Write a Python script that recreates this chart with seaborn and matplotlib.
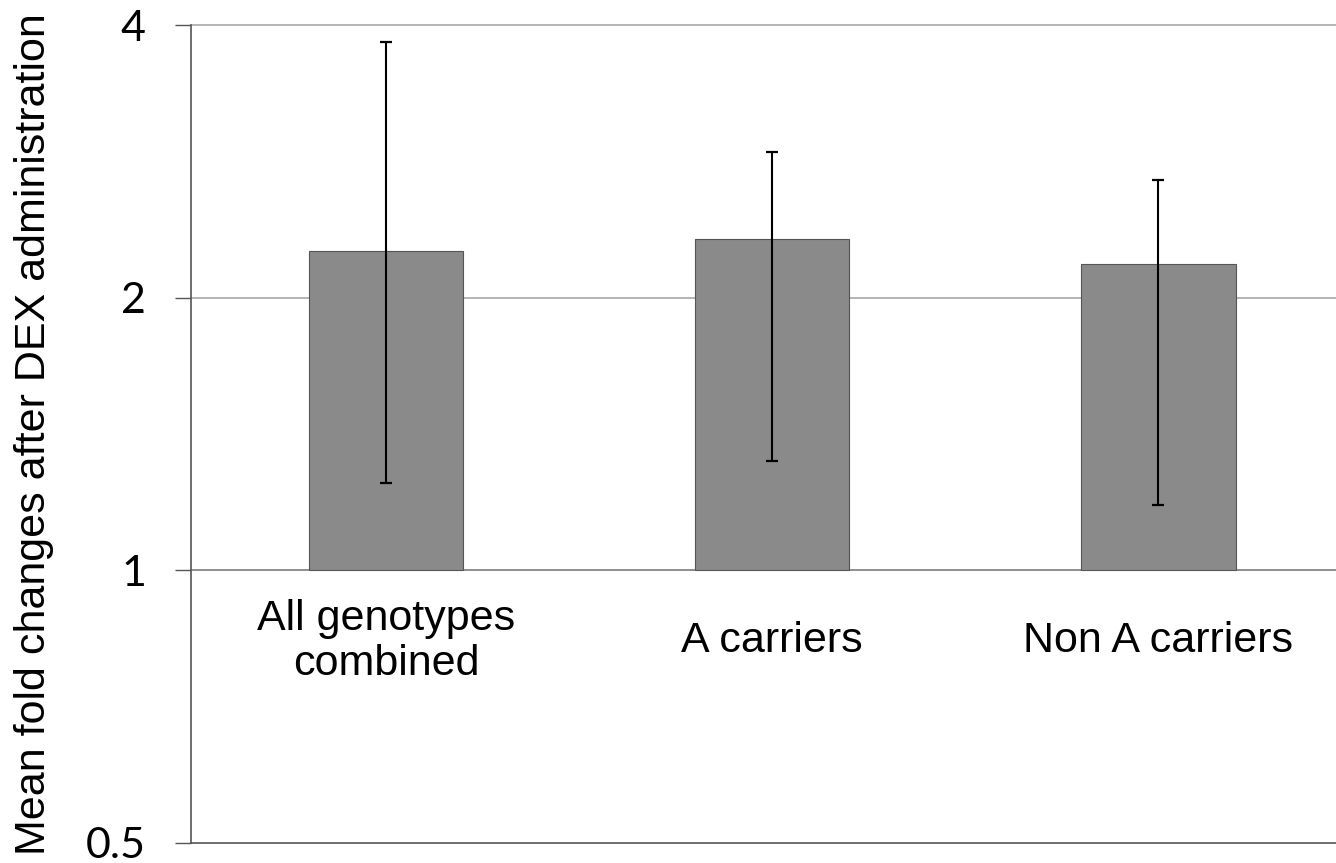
import numpy as np
import pandas as pd
import matplotlib
matplotlib.use("Agg")
import matplotlib.pyplot as plt
import seaborn as sns

# Group means and error limits (fold change after DEX)
categories = ["All genotypes\ncombined", "A carriers", "Non A carriers"]
mean_fold = [2.25, 2.32, 2.18]
err_low = [1.25, 1.32, 1.18]
err_high = [3.83, 2.90, 2.70]
y_ticks = [0.5, 1, 2, 4]

sns.set_theme(style="white")
plt.rcParams["font.family"] = ["Liberation Sans", "DejaVu Sans"]
plt.rcParams["text.color"] = "black"
plt.rcParams["axes.labelcolor"] = "black"
plt.rcParams["ytick.labelcolor"] = "black"

df = pd.DataFrame({"group": categories, "log2fc": np.log2(mean_fold)})

fig = plt.figure(figsize=(13.36, 8.63), dpi=100)
ax = fig.add_axes([0.143, 0.0232, 0.857, 0.9478])

sns.barplot(data=df, x="group", y="log2fc", color="#8a8a8a", width=0.40,
            saturation=1, errorbar=None, edgecolor="#555555", linewidth=0.8,
            ax=ax, zorder=3)

# error bars in log2 space
xs = np.arange(len(categories))
lo = np.log2(mean_fold) - np.log2(err_low)
hi = np.log2(err_high) - np.log2(mean_fold)
ax.errorbar(xs, np.log2(mean_fold), yerr=[lo, hi], fmt="none", ecolor="black",
            elinewidth=1.5, capsize=4, capthick=1.6, zorder=4)

ax.set_ylim(np.log2(y_ticks[0]), np.log2(y_ticks[-1]))
ax.set_xlim(-0.505, 2.46)
ax.set_yticks(np.log2(y_ticks))
ax.set_yticklabels([f"{t:g}" for t in y_ticks], fontsize=31,
                   fontfamily=["Lato", "DejaVu Sans"])
ax.tick_params(axis="y", length=11.5, width=1, color="#555555", pad=21, left=True)
ax.set_xticks([])
ax.set_xlabel("")
ax.set_ylabel("Mean fold changes after DEX administration", fontsize=31)
ax.yaxis.set_label_coords(-0.12, 0.5)

# horizontal gridlines at 1, 2, 4
for t in y_ticks[1:]:
    ax.axhline(np.log2(t), color="#a0a0a0" if t != 1 else "#707070",
               linewidth=1.1, zorder=1, clip_on=False)

for s in ["top", "right"]:
    ax.spines[s].set_visible(False)
ax.spines["left"].set_color("#555555")
ax.spines["bottom"].set_color("#555555")
ax.spines["left"].set_linewidth(1.2)
ax.spines["bottom"].set_linewidth(1.2)

# category labels sit just below the baseline at 1
for x, lab in zip(xs, categories):
    ax.text(x, np.log2(0.835), lab, ha="center", va="center", fontsize=31,
            linespacing=1.15)

fig.savefig("out.png", dpi=100)
